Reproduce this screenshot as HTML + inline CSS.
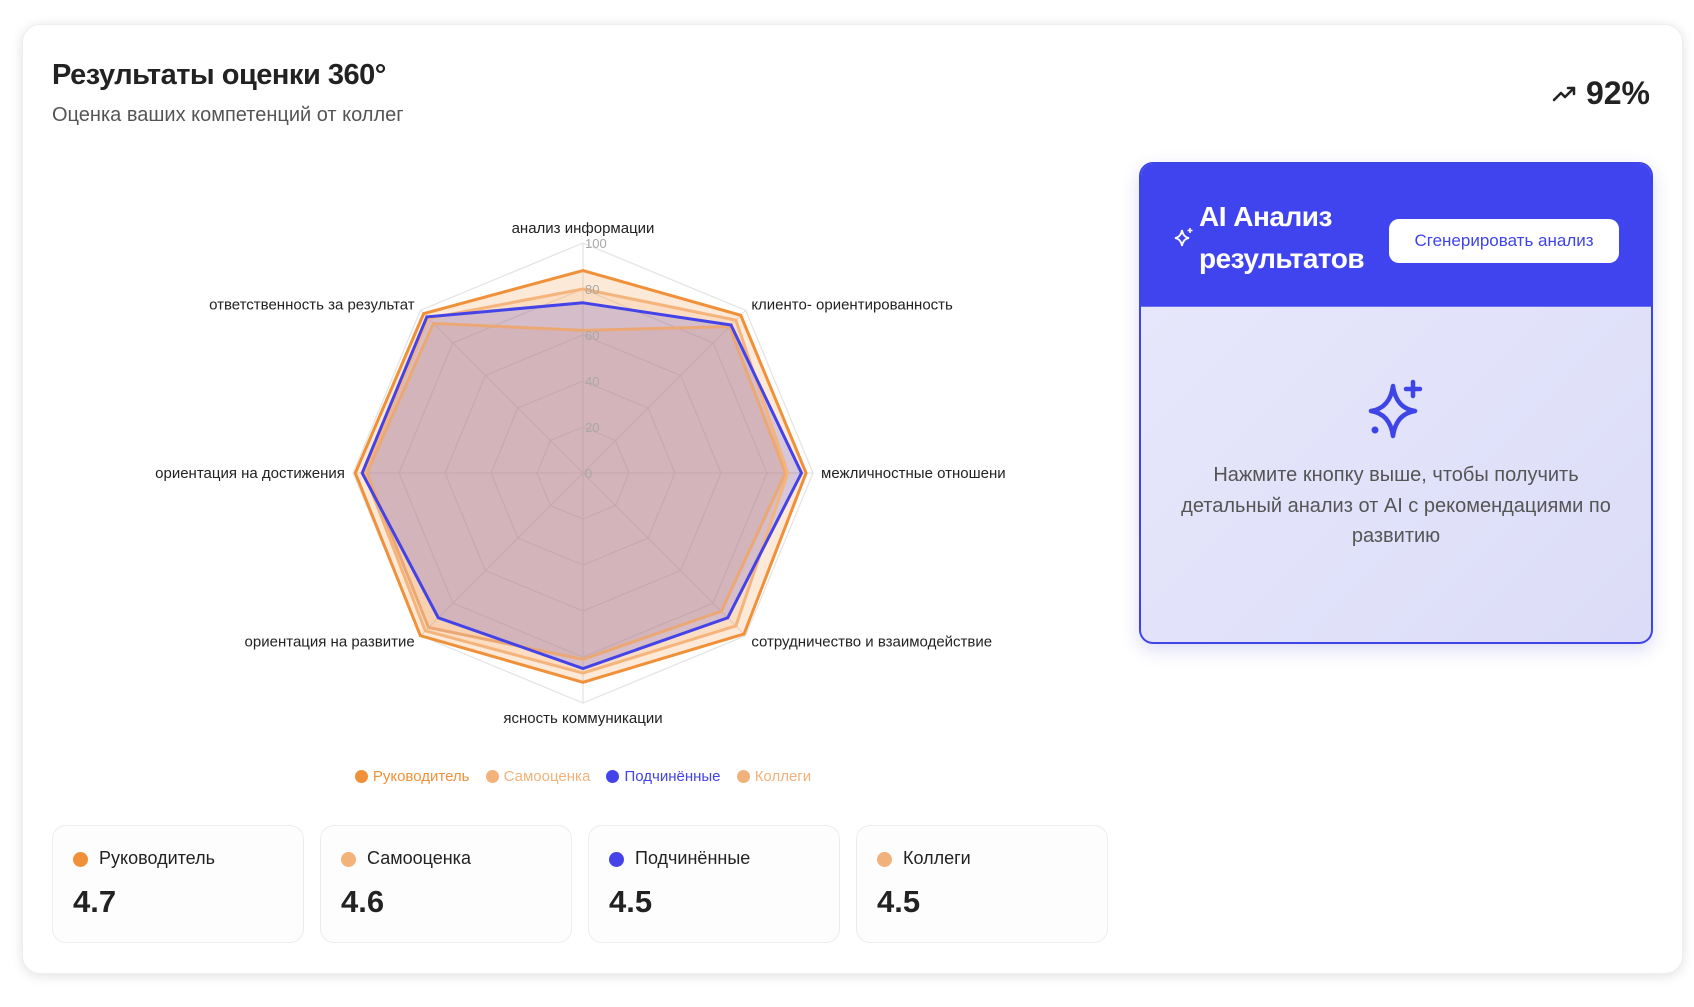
<!DOCTYPE html>
<html><head><meta charset="utf-8">
<style>
body{margin:0;width:1694px;height:1007px;background:#fff;font-family:"Liberation Sans","Noto Sans CJK SC",sans-serif;position:relative;overflow:hidden}
.card{position:absolute;left:22px;top:24px;width:1659px;height:948px;border-radius:18px;background:#fff;box-shadow:0 2px 12px rgba(0,0,0,.12);border:1px solid #eee}
.abs{position:absolute}
.stat{position:absolute;top:825px;width:250px;height:116px;border:1px solid #ececec;border-radius:14px;background:#fdfdfd}
.stat .dot{position:absolute;left:20px;top:26px;width:15px;height:15px;border-radius:50%}
.stat .lab{position:absolute;left:46px;top:22px;font-size:18px;color:#222}
.stat .val{position:absolute;left:20px;top:58px;font-size:31px;font-weight:bold;color:#222}
</style></head><body>
<div class="card"></div>
<div class="abs" style="left:52px;top:59px;font-size:29px;font-weight:bold;color:#222;letter-spacing:-0.5px">Результаты оценки 360°</div>
<div class="abs" style="left:52px;top:104px;font-size:20px;color:#555">Оценка ваших компетенций от коллег</div>
<div class="abs" style="right:44px;top:75px;font-size:32px;font-weight:bold;color:#222"><svg width="26" height="20" viewBox="0 0 26 20" style="margin-right:8px"><path d="M2 16 L9 9 L13 13 L22 4 M16 4 L22 4 L22 10" fill="none" stroke="#222" stroke-width="2.5" stroke-linecap="round" stroke-linejoin="round"/></svg>92%</div>

<svg class="abs" style="left:0;top:0" width="1120" height="800" id="radar">
<defs><clipPath id="clip"><rect x="154" y="0" width="851" height="800"/></clipPath></defs>
<g clip-path="url(#clip)" id="rg"></g>
</svg>

<div class="abs" style="left:0;width:1166px;top:768px;text-align:center;font-size:15px">
<span style="color:#f0913a;margin-right:12px"><span style="display:inline-block;width:13px;height:13px;border-radius:50%;background:#f0913a;vertical-align:-2px;margin-right:5px"></span>Руководитель</span>
<span style="color:#f3b27a;margin-right:12px"><span style="display:inline-block;width:13px;height:13px;border-radius:50%;background:#f3b27a;vertical-align:-2px;margin-right:5px"></span>Самооценка</span>
<span style="color:#4343e8;margin-right:12px"><span style="display:inline-block;width:13px;height:13px;border-radius:50%;background:#4343e8;vertical-align:-2px;margin-right:5px"></span>Подчинённые</span>
<span style="color:#f0b27a"><span style="display:inline-block;width:13px;height:13px;border-radius:50%;background:#f0b27a;vertical-align:-2px;margin-right:5px"></span>Коллеги</span>
</div>

<div class="stat" style="left:52px"><div class="dot" style="background:#f0913a"></div><div class="lab">Руководитель</div><div class="val">4.7</div></div>
<div class="stat" style="left:320px"><div class="dot" style="background:#f3b27a"></div><div class="lab">Самооценка</div><div class="val">4.6</div></div>
<div class="stat" style="left:588px"><div class="dot" style="background:#4343e8"></div><div class="lab">Подчинённые</div><div class="val">4.5</div></div>
<div class="stat" style="left:856px"><div class="dot" style="background:#f0b27a"></div><div class="lab">Коллеги</div><div class="val">4.5</div></div>

<div class="abs" style="left:1139px;top:162px;width:510px;height:478px;border:2px solid #3f44e6;border-radius:14px;overflow:hidden;background:linear-gradient(135deg,#e8e9fc,#dcdcf8);box-shadow:0 6px 18px rgba(60,60,200,.18)">
 <div style="position:absolute;left:0;top:0;width:100%;height:142px;background:#3f44ef;border-bottom:1px solid #6a6ff0"></div>
 <svg style="position:absolute;left:32px;top:62px" width="22" height="22" viewBox="0 0 22 22"><path d="M9 4 Q10 11 16 12 Q10 13 9 20 Q8 13 2 12 Q8 11 9 4Z" fill="none" stroke="#fff" stroke-width="1.8"/><path d="M17 2v5M14.5 4.5h5" stroke="#fff" stroke-width="1.6"/></svg>
 <div style="position:absolute;left:58px;top:32px;font-size:28px;font-weight:bold;color:#fff;line-height:42px;letter-spacing:-0.5px">AI Анализ<br>результатов</div>
 <div style="position:absolute;left:248px;top:55px;width:230px;height:44px;border-radius:10px;background:#fff;color:#3f44e6;font-size:17px;text-align:center;line-height:44px">Сгенерировать анализ</div>
 <svg style="position:absolute;left:224px;top:214px" width="62" height="62" viewBox="0 0 62 62"><path d="M28 8 Q31 30 50 33 Q31 36 28 58 Q25 36 6 33 Q25 30 28 8Z" fill="none" stroke="#3f44e6" stroke-width="4.5" stroke-linejoin="round"/><path d="M48 4v14M41 11h14" stroke="#3f44e6" stroke-width="4.5" stroke-linecap="round"/><circle cx="10" cy="52" r="3.5" fill="#3f44e6"/></svg>
 <div style="position:absolute;left:30px;width:450px;top:296px;font-size:20px;line-height:30.5px;color:#555;text-align:center">Нажмите кнопку выше, чтобы получить детальный анализ от AI с рекомендациями по развитию</div>
</div>

<script>
const categories=["анализ информации","клиенто- ориентированность","межличностные отношения","сотрудничество и взаимодействие","ясность коммуникации","ориентация на развитие","ориентация на достижения","ответственность за результат"];
const manager=[88,97,97,99,91,100,99,98];
const selfScore=[80,94,89,94,87,97,95,95];
const subordinates=[74,91,95,89,85,89,96,96];
const colleagues=[62,90,88,85,81,95,94,92];
const ticks=[0,20,40,60,80,100];
const NS="http://www.w3.org/2000/svg";
const cx=583,cy=473,R=230;
const g=document.getElementById('rg');
function pt(i,v){const a=i/categories.length*2*Math.PI;return [cx+Math.sin(a)*R*v/100,cy-Math.cos(a)*R*v/100];}
function mk(t,attrs){const e=document.createElementNS(NS,t);for(const k in attrs)e.setAttribute(k,attrs[k]);g.appendChild(e);return e;}
ticks.slice(1).forEach(t=>{
 const p=mk('polygon',{points:categories.map((c,i)=>pt(i,t).join(',')).join(' '),fill:'none',stroke:'#e3e3e3','stroke-width':1.2});
 
 
});
categories.forEach((c,i)=>{
 const [x,y]=pt(i,100);
 const l=mk('line',{x1:cx,y1:cy,x2:x,y2:y,stroke:'#e3e3e3','stroke-width':1.2});
 
 
});
const series=[[colleagues,'#eca874'],[selfScore,'#f5b47c'],[manager,'#f0913a'],[subordinates,'#4343e8']];
series.forEach(([d,col])=>{
 const p=mk('polygon',{points:d.map((v,i)=>pt(i,v).join(',')).join(' '),fill:col,'fill-opacity':0.2,stroke:'none'});
 
 
});
series.forEach(([d,col])=>{
 const p=mk('polygon',{points:d.map((v,i)=>pt(i,v).join(',')).join(' '),fill:'none',stroke:col,'stroke-width':3});
 
 
});
ticks.forEach(t=>{
 const e=mk('text',{x:cx+2,y:cy-R*t/100+5,'font-size':13,fill:'#a8a8a8'});
 e.textContent=t;
 
 
});
categories.forEach((c,i)=>{
 const [x,y]=pt(i,103.5);
 let anchor='middle',dy=5;
 if(x>cx+5)anchor='start';else if(x<cx-5)anchor='end';
 if(i==0)dy=-2;if(i==4)dy=12;
 const e=mk('text',{x:x,y:y+dy,'font-size':15,fill:'#222','text-anchor':anchor});
 e.textContent=c;
 
 
});
</script>
</body></html>
